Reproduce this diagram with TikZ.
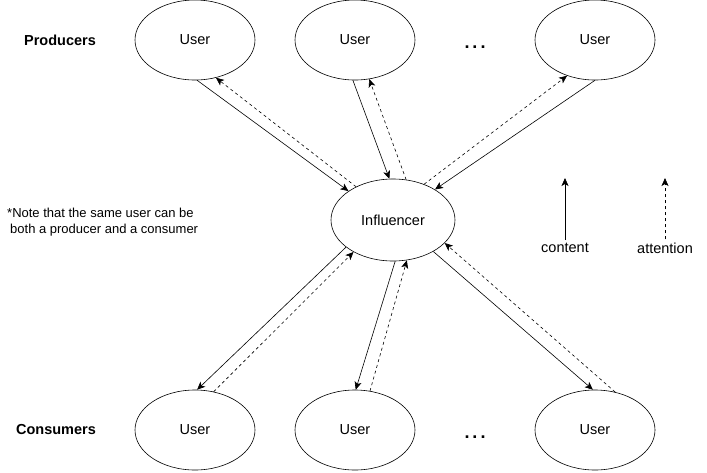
\documentclass[tikz,border=0pt]{standalone}
\usepackage{fontspec}
\setmainfont{Liberation Sans}
\usetikzlibrary{arrows.meta,shapes.geometric}

\tikzset{
  usernode/.style={draw, ellipse, minimum width=120pt, minimum height=80pt, inner sep=0pt, line width=0.6pt, font=\fontsize{14.5}{17}\selectfont},
  rolelabel/.style={font=\fontsize{14.5}{17}\selectfont\bfseries},
  dotslabel/.style={font=\fontsize{18}{20}\selectfont\bfseries, anchor=base, inner sep=0pt},
  legendtext/.style={font=\fontsize{14.5}{17}\selectfont, inner sep=3pt},
  contentarrow/.style={-{Stealth[length=8pt,width=7pt,inset=2pt]}, line width=0.6pt},
  attnarrow/.style={contentarrow, dash pattern=on 3pt off 3pt},
}
\newcommand{\userdots}{.\hspace{3pt}.\hspace{3pt}.}

\begin{document}
\begin{tikzpicture}[x=1pt,y=-1pt]
\useasboundingbox (0,0) rectangle (707,472);

\node[usernode] (prodA) at (195,40) {User};
\node[usernode] (prodB) at (355,40) {User};
\node[usernode] (prodC) at (595,40) {User};
\node[rolelabel] (prodLabel) at (60,40) {Producers};
\node[dotslabel] (prodDots) at (475,48) {\userdots};

\node[usernode, minimum width=124pt, minimum height=82pt] (infl) at (393,220) {Influencer};

\node[usernode] (consA) at (195,430) {User};
\node[usernode] (consB) at (355,430) {User};
\node[usernode] (consC) at (595,430) {User};
\node[rolelabel] (consLabel) at (56,430) {Consumers};
\node[dotslabel] (consDots) at (475,438) {\userdots};

\node[anchor=west, align=left, inner sep=0pt, font=\fontsize{13}{15.7}\selectfont] (note) at (7,222)
  {*Note that the same user can be\\\hspace{3pt}both a producer and a consumer};

\draw[contentarrow] (prodA.-87) -- (infl.147);
\draw[attnarrow] (infl.138) -- (prodA.-61);
\draw[contentarrow] (prodB.-93) -- (infl.95);
\draw[attnarrow] (infl.72) -- (prodB.-70);
\draw[contentarrow] (prodC.-90) -- (infl.36);
\draw[attnarrow] (infl.49) -- (prodC.-128);

\draw[contentarrow] (infl.-150) -- (consA.87);
\draw[attnarrow] (consA.64) -- (infl.-141);
\draw[contentarrow] (infl.-87) -- (consB.89);
\draw[attnarrow] (consB.69) -- (infl.-71);
\draw[contentarrow] (infl.-38) -- (consC.93);
\draw[attnarrow] (consC.62) -- (infl.-24);

\node[legendtext] (contentLabel) at (565,248) {content};
\coordinate (contentTip) at (565,178);
\draw[contentarrow] (contentLabel.north) -- (contentTip);

\node[legendtext] (attnLabel) at (665,248) {attention};
\coordinate (attnTip) at (665,178);
\draw[attnarrow] (attnLabel.north) -- (attnTip);
\end{tikzpicture}
\end{document}
